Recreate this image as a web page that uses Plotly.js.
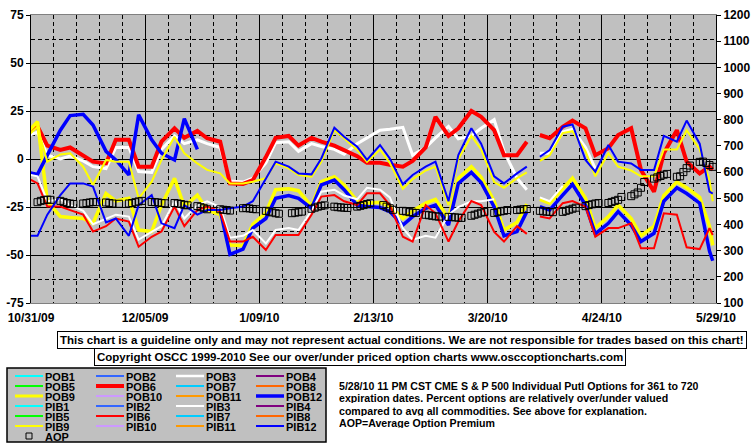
<!DOCTYPE html>
<html><head><meta charset="utf-8">
<script src="https://cdn.plot.ly/plotly-3.0.1.min.js"></script>
<style>html,body{margin:0;padding:0;background:#fff;}#chart{width:755px;height:446px;}</style>
</head><body><div id="chart"></div>
<script>
// ---------- DATA ----------
const dates = ['2009-10-30','2009-11-02','2009-11-05','2009-11-09','2009-11-12','2009-11-16','2009-11-19','2009-11-23','2009-11-26','2009-11-30',
'2009-12-03','2009-12-07','2009-12-10','2009-12-14','2009-12-17','2009-12-21','2009-12-24','2009-12-28','2009-12-31',
'2010-01-04','2010-01-07','2010-01-11','2010-01-14','2010-01-18','2010-01-21','2010-01-25','2010-01-28',
'2010-02-01','2010-02-04','2010-02-08','2010-02-11','2010-02-15','2010-02-18','2010-02-22','2010-02-25',
'2010-03-01','2010-03-04','2010-03-08','2010-03-11','2010-03-15','2010-03-18','2010-03-22','2010-03-25','2010-03-29',
'2010-04-01','2010-04-02','2010-04-05','2010-04-08','2010-04-12','2010-04-15','2010-04-19','2010-04-22','2010-04-26','2010-04-29',
'2010-05-03','2010-05-06','2010-05-10','2010-05-13','2010-05-17','2010-05-20','2010-05-24','2010-05-27','2010-05-28'];

const pob3 = [12, 14,2,0,1.5,-1,-4,-5,6,6,-6.5, -7,5,12,8,10,8,6,-11.5,-12,-10, -2,8.5,9,4,8,6.5,5,2.5,8,11,
  15,15.5,16.5,2,6,11,17,10.5,12,16,20.5,4,-10,-16, null,
  3,3,14,15.5,6,-5,null,null,null,null,null,null,null,null,null,null,null];
const pob6 = [14, 17,7,4.7,6,2,-1.4,-2.3,10,10,-4, -4,9,16,11,14.6,10.8,9,-12.7,-13,-11, 1,11,12,7,11,9,7,4.5,1.5,-2,
  -2,-3,-4,-1,6,22,12,16,25,22,15,2,2,9, null,
  12.5,10.8,16.8,20,16,2,5.6,12.5,16,-5.7,-17,3,15,-1.4,-7.5,-4,-5.7];
const pob9 = [14, 19.4,-22,-30,-30.5,-31,-33.5,-18,-21.9,-20.5,-37, -37.8,-24,-10,-24.8,-18.8,-26.6,-29,-44.8,-45,-34, -28,-16,-15.5,-16.5,-24.5,-11.8,-9.2,-13.5,-21.9,-23,
  -22.5,-24.5,-31,-27,-23,-21,-31,-10,-4,-9.5,-22,-37,-33,-23.5, null,
  -21,-23,-15.5,-10,-20.5,-36,-30,-24,-31,-40,-35,-19,-12,-15,-20,-35,-45];
const pob12 = [-7, -8,2,15,22.6,23.3,17.7,4,-0.5,-8.3,23, 10,3,-0.5,21,5,null,-26.6,-49.7,-47,-36, -31,-20.5,-19,-20.5,-25.7,-13.5,-11,-16,-24,-24.8,
  -25.3,-27.4,-34.4,-30,-25.7,-24,-34.4,-12.7,-7,-12.2,-25,-40,-37.8,-27.4, null,
  -24.8,-26.6,-18.8,-13.2,-24,-39,-33.5,-27.4,-34.4,-43,-38.7,-22,-15,-18,-23,-48,-53];
const pib3 = [-8, -9,-22,-21,-24,-27,-34,-31,-29,-30,-42, -38,-35,-22,-31,-24,-22,-25,-41,-40,-37, -44,-37,-36,-37,-27,-17,-16,-19,-21,-15,
  -16,-20,-36,-42,-40,-41,-29,-25,-22,-22,-21,null,null,null, null,
  -20,-22,-14,null,null,null,null,null,null,null,null,null,null,null,null,null,null];
const pib6 = [-10, -12.7,-24.8,-24.8,-26.6,-29,-37.8,-35,-31,-32.6,-45.7, -40.5,-37.8,-24.8,-35,-26.6,-24.8,-27.4,-43,-43,-40.5, -47.4,-39.6,-39.6,-39.6,-29,-19.6,-18.8,-22,-24,-17.9,
  -17.9,-24,-40.5,-43,-24,-28.3,-43,-32.6,-21.9,-24,-38,-43,-35,-39, null,
  -30,-31,-23,-21.9,-24.8,-40.5,-36,-36,-33.5,-46.5,-46.5,-28.3,-29,-46,-46.9,-36,-39.6];
const pib9 = [12, 16.8,-1.4,2.4,3,-4,-13.5,-0.5,-1.4,-1.4,-20.5, -11.8,-0.5,11.6,3,-2.3,-5.7,-7.5,-12.7,-12.7,-11.8, -10,-2.3,-4.9,-8.3,-9.2,-1.4,15,10.8,4.7,-1.4,
  5,-2,-15.5,-10.5,-6,-4,-24,0,12,5,-12,-15,-10,-7, null,
  -1,2,13.5,14.5,4,-9,3,-4,-6,-9,-9,5,5,15,5,-11,-22];
const pib12 = [-40, -40,-29,-18.8,-12.7,-12.7,-14.4,-33,-31,-40,-24, -18.8,-33.5,-36,-24,-29,-26.6,-26.6,-25.7,-24.8,-22, -10,-1.4,-4,-7.5,-8,0.3,16.3,11.6,6.4,-0.5,
  7.3,0.3,-13.2,-8.3,-4,-1.4,-22,2,16,8,-9,-12.7,-7.5,-4, null,
  1.2,4.7,16.8,18,-0.5,-6.6,7.3,-1.4,-2.3,-5.7,-5.7,12,9,20,8,-17,-18];

// Average Option Premium, one row per trading week (Mon..Fri), first Monday 2009-11-02
const aopFirstMonday = [2009, 10, 2];
const aopWeeks = [
 [485,490,493,495,494],[490,486,482,480,478],[480,482,484,486,485],[484,482,480,null,479],
 [480,482,485,488,490],[486,485,484,482,481],[482,480,478,475,473],[470,466,462,458,null],
 [458,456,455,453,null],[462,463,461,459,458],[452,449,446,443,441],[null,443,445,447,449],
 [460,464,468,471,473],[468,466,465,464,463],[468,471,474,478,481],[null,474,468,462,456],
 [452,450,447,445,444],[437,435,433,431,430],[429,428,427,426,425],[433,437,441,445,448],
 [444,447,450,452,455],[455,457,458,459,null],[452,450,449,448,447],[448,452,456,460,464],
 [470,474,477,480,482],[482,486,490,494,505],[508,515,522,540,562],[575,580,585,590,593],
 [582,584,600,615,625],[639,640,635,627,620]];

const yTickVals = [-75,-50,-25,0,25,50,75];
const yTickText = ['-75','-50','-25','0','25','50','75'];
const legendNames = ['POB1','POB2','POB3','POB4','POB5','POB6','POB7','POB8','POB9','POB10','POB11','POB12',
                     'PIB1','PIB2','PIB3','PIB4','PIB5','PIB6','PIB7','PIB8','PIB9','PIB10','PIB11','PIB12'];
const legendColors = ['#00FFFF','#3366FF','#FFFFFF','#800080','#00FF00','#FF0000','#00CCFF','#FF6600','#FFFF00','#CC99FF','#FF9900','#0000FF'];
const noteText1 = 'This chart is a guideline only and may not represent actual conditions. We are not responsible for trades based on this chart!';
const noteText2 = 'Copyright OSCC 1999-2010 See our over/under priced option charts www.osccoptioncharts.com';
const descLines = ['5/28/10 11 PM CST CME S &amp; P 500 Individual Putl Options for 361 to 720',
  'expiration dates. Percent options are relatively over/under valued',
  'compared to avg all commodities. See above for explanation.',
  'AOP=Average Option Premium'];

// ---------- BUILD ----------
const FONT = 'Liberation Sans, Arial, sans-serif';
const L = 31, R = 716, T = 15, B = 303;
const px = x => (x - L) / (R - L);
const py = y => (B - y) / (B - T);

const aopDates = [], aopVals = [];
aopWeeks.forEach((wk, w) => wk.forEach((v, d) => {
  const t = new Date(Date.UTC(aopFirstMonday[0], aopFirstMonday[1], aopFirstMonday[2] + 7 * w + d));
  aopDates.push(t.toISOString().slice(0, 10)); aopVals.push(v);
}));

const series = [
  {name:'POB3', y:pob3, color:'#FFFFFF', width:3},
  {name:'POB6', y:pob6, color:'#FF0000', width:4},
  {name:'POB9', y:pob9, color:'#FFFF00', width:3.5},
  {name:'POB12', y:pob12, color:'#0000FF', width:3.5},
  {name:'PIB3', y:pib3, color:'#FFFFFF', width:2},
  {name:'PIB6', y:pib6, color:'#FF0000', width:2},
  {name:'PIB9', y:pib9, color:'#FFFF00', width:2},
  {name:'PIB12', y:pib12, color:'#0000FF', width:2}
];
const traces = series.map(s => ({
  type:'scatter', mode:'lines', name:s.name, x:dates, y:s.y,
  line:{color:s.color, width:s.width}, connectgaps:false, hoverinfo:'skip'
}));
traces.push({type:'scatter', mode:'markers', name:'AOP', x:aopDates, y:aopVals, yaxis:'y2',
  marker:{symbol:'square-open', size:7, color:'#000000', line:{width:1, color:'#000000'}}, hoverinfo:'skip'});

const shapes = [], annotations = [];
// note boxes
annotations.push({xref:'paper', yref:'paper', x:px(401.5), y:py(339.5), xanchor:'center', yanchor:'middle', text:noteText1, showarrow:false,
  bgcolor:'#FFFFFF', bordercolor:'#000000', borderwidth:1, borderpad:2,
  font:{family:FONT, size:11.5, color:'#000', weight:'bold'}});
annotations.push({xref:'paper', yref:'paper', x:px(360), y:py(357), xanchor:'center', yanchor:'middle', text:noteText2, showarrow:false,
  bgcolor:'#FFFFFF', bordercolor:'#000000', borderwidth:1, borderpad:2,
  font:{family:FONT, size:11.5, color:'#000', weight:'bold'}});
// legend box
shapes.push({type:'rect', xref:'paper', yref:'paper', x0:px(7), x1:px(326), y0:py(368), y1:py(442),
  fillcolor:'#C0C0C0', line:{color:'#000000', width:1.5}, layer:'above'});
const colX = [15, 96, 176, 256], rowY = [376, 386, 396, 406, 416, 426, 436];
const pobWidths = [2,2,2.5,2,2,4,2,2,3,2,2,3.5];
legendNames.forEach((nm, i) => {
  const row = Math.floor(i / 4), col = i % 4;
  const ci = i % 12;
  const w = i < 12 ? pobWidths[ci] : 2;
  shapes.push({type:'line', xref:'paper', yref:'paper', x0:px(colX[col]), x1:px(colX[col] + 28),
    y0:py(rowY[row]), y1:py(rowY[row]), line:{color:legendColors[ci], width:w}, layer:'above'});
  annotations.push({xref:'paper', yref:'paper', x:px(colX[col] + 30), y:py(rowY[row]), xanchor:'left', yanchor:'middle',
    text:nm, showarrow:false, borderpad:0, borderwidth:0, height:9, font:{family:FONT, size:11, color:'#000', weight:'bold'}});
});
shapes.push({type:'rect', xref:'paper', yref:'paper', x0:px(26), x1:px(32), y0:py(433), y1:py(439),
  fillcolor:'rgba(0,0,0,0)', line:{color:'#000', width:1}, layer:'above'});
annotations.push({xref:'paper', yref:'paper', x:px(45), y:py(436), xanchor:'left', yanchor:'middle',
  text:'AOP', showarrow:false, borderpad:0, borderwidth:0, height:9, font:{family:FONT, size:11, color:'#000', weight:'bold'}});
// description
const descY = [385, 397.5, 410, 422.5];
descLines.forEach((t, i) => annotations.push({xref:'paper', yref:'paper', x:px(339), y:py(descY[i]),
  xanchor:'left', yanchor:'middle', text:t, showarrow:false, borderpad:0, borderwidth:0, height:11,
  font:{family:FONT, size:10.6, color:'#000', weight:'bold'}}));

const DAY = 86400000;
const layout = {
  width:755, height:446, margin:{l:31, r:39, t:15, b:143, pad:0},
  paper_bgcolor:'#FFFFFF', plot_bgcolor:'#C0C0C0', showlegend:false,
  font:{family:FONT, size:12, color:'#000', weight:'bold'},
  xaxis:{type:'date', range:['2009-10-31','2010-05-29'], tickmode:'linear', tick0:'2009-10-31', dtick:35 * DAY,
    tickformat:'%-m/%d/%y', showgrid:true, gridcolor:'#000', gridwidth:1,
    minor:{tick0:'2009-10-31', dtick:7 * DAY, showgrid:true, gridcolor:'#000', gridwidth:1, griddash:'4px,3px'},
    showline:true, linecolor:'#808080', linewidth:1, mirror:true, ticks:'', ticklabelstandoff:4,
    tickfont:{family:FONT, size:12, color:'#000', weight:'bold'}, zeroline:false, automargin:false, fixedrange:true},
  yaxis:{range:[-75,75], tickmode:'array', tickvals:yTickVals, ticktext:yTickText, showgrid:true, gridcolor:'#000', gridwidth:1,
    minor:{tick0:0, dtick:12.5, showgrid:true, gridcolor:'#000', gridwidth:1, griddash:'4px,3px'},
    showline:true, linecolor:'#000', linewidth:1, ticks:'outside', ticklen:4, tickcolor:'#000',
    tickfont:{family:FONT, size:12, color:'#000', weight:'bold'}, zeroline:false, automargin:false, fixedrange:true},
  yaxis2:{overlaying:'y', side:'right', range:[100,1200], tickmode:'linear', tick0:100, dtick:100, showgrid:false,
    showline:true, linecolor:'#000', linewidth:1, ticks:'outside', ticklen:4, tickcolor:'#000',
    tickfont:{family:FONT, size:12, color:'#000', weight:'bold'}, zeroline:false, automargin:false, fixedrange:true},
  shapes:shapes, annotations:annotations
};
Plotly.newPlot('chart', traces, layout, {staticPlot:true, displayModeBar:false});
</script></body></html>
